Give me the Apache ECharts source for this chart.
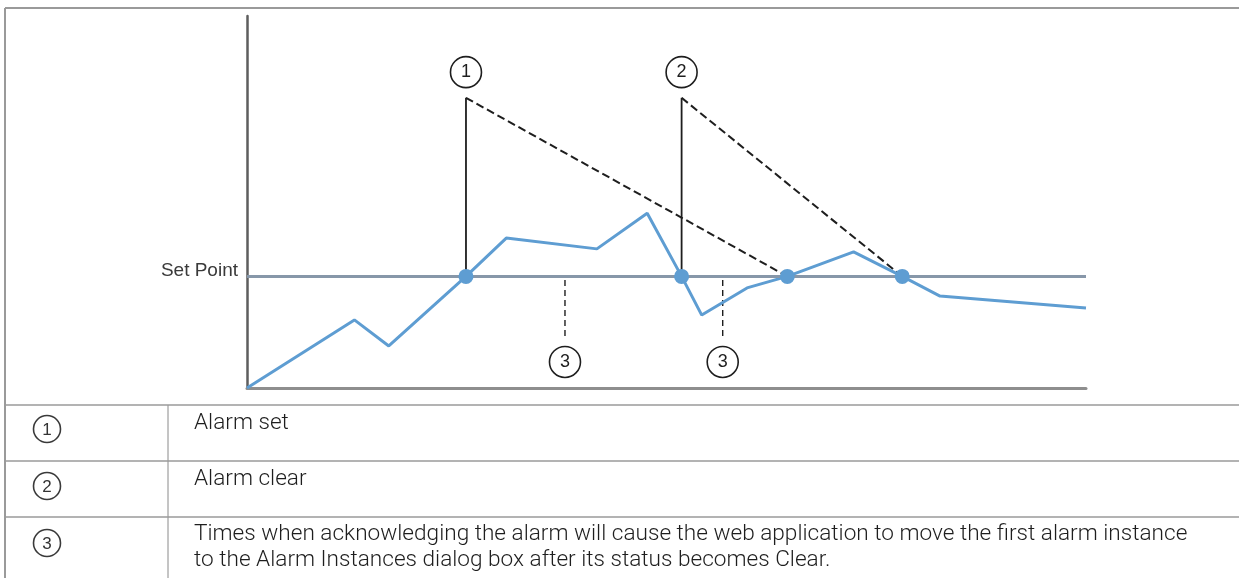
<!DOCTYPE html>
<html>
<head>
<meta charset="utf-8">
<script src="https://cdn.jsdelivr.net/npm/echarts@6/dist/echarts.min.js"></script>
<style>
  html, body { margin: 0; padding: 0; background: #fff; }
  #chart { width: 1239px; height: 578px; }
</style>
</head>
<body>
<div id="chart"></div>
<script>
// signal trace (x in % of time span, y in % of axis height)
const traceX = [0, 12.8, 16.9, 26.1, 30.9, 41.7, 47.7, 51.8, 54.2, 59.6, 64.4, 72.3, 78.1, 82.6, 100]
const traceY = [0, 18.3, 11.3, 30, 40.3, 37.4, 47.0, 30, 19.6, 26.9, 30, 36.6, 30, 24.7, 21.5]
const setPoint = 30
const crossX = [26.1, 51.8, 64.4, 78.1]

// callouts
const alarmX = [26.1, 51.8]        // 1 = set, 2 = clear
const alarmEndX = [64.4, 78.1]     // where the dashed line lands
const alarmTop = 78
const calloutY = 84.9
const ackX = [37.9, 56.7]
const ackTop = 29
const ackBottom = 13.3
const ackLabelY = 7

// legend table
const legendNums = ['1', '2', '3']
const legendText = [
  'Alarm set',
  'Alarm clear',
  'Times when acknowledging the alarm will cause the web application to move the first alarm instance\nto the Alarm Instances dialog box after its status becomes Clear.'
]

const blue = '#5e9dd2'
const ink = '#1e1e1e'

const series = []

series.push({
  type: 'line',
  data: traceX.map((x, i) => [x, traceY[i]]),
  showSymbol: false,
  lineStyle: { color: blue, width: 3 },
  z: 4,
  silent: true,
  markLine: {
    silent: true,
    symbol: 'none',
    lineStyle: { color: '#8797a9', width: 3, type: 'solid' },
    label: {
      show: true,
      position: 'start',
      formatter: 'Set Point',
      distance: 9,
      color: '#3a3a3a',
      fontFamily: 'Liberation Sans',
      fontSize: 19,
      offset: [0, -6]
    },
    data: [{ yAxis: setPoint }]
  }
})

series.push({
  type: 'scatter',
  data: crossX.map(x => [x, setPoint]),
  symbolSize: 15,
  itemStyle: { color: blue, opacity: 1 },
  z: 6,
  silent: true
})

alarmX.forEach((x, i) => {
  series.push({
    type: 'line',
    data: [[x, setPoint], [x, alarmTop]],
    showSymbol: false,
    lineStyle: { color: ink, width: 1.8 },
    z: 3,
    silent: true
  })
  series.push({
    type: 'line',
    data: [[x, alarmTop], [alarmEndX[i], setPoint]],
    showSymbol: false,
    lineStyle: { color: ink, width: 2, type: [8, 4] },
    z: 3,
    silent: true
  })
})

ackX.forEach(x => {
  series.push({
    type: 'line',
    data: [[x, ackTop], [x, ackBottom]],
    showSymbol: false,
    lineStyle: { color: ink, width: 1.4, type: [6, 4] },
    z: 3,
    silent: true
  })
})

const calloutPts = alarmX.map((x, i) => ({ value: [x, calloutY], name: legendNums[i] }))
  .concat(ackX.map(x => ({ value: [x, ackLabelY], name: legendNums[2] })))

series.push({
  type: 'scatter',
  data: calloutPts,
  symbolSize: 31,
  itemStyle: { color: '#fff', borderColor: ink, borderWidth: 1.6, opacity: 1 },
  label: {
    show: true,
    position: 'inside',
    formatter: p => p.name,
    color: ink,
    fontFamily: 'Liberation Sans',
    fontSize: 18
  },
  z: 7,
  silent: true
})

// table frame and text
const rowLines = [405, 461, 517]
const rowTextY = [[423], [479], [534, 560]]
const rowCircleY = [429, 486, 543]
const graphic = [
  { type: 'line', shape: { x1: 5, y1: 8, x2: 1239, y2: 8 }, style: { stroke: '#9a9a9a', lineWidth: 2 } },
  { type: 'line', shape: { x1: 5, y1: 8, x2: 5, y2: 578 }, style: { stroke: '#9a9a9a', lineWidth: 2 } },
  { type: 'line', shape: { x1: 168, y1: 405, x2: 168, y2: 578 }, style: { stroke: '#8a8a8a', lineWidth: 1 } }
]
rowLines.forEach(y => {
  graphic.push({ type: 'line', shape: { x1: 5, y1: y, x2: 1239, y2: y }, style: { stroke: '#9a9a9a', lineWidth: 1.5 } })
})
legendNums.forEach((n, i) => {
  graphic.push({
    type: 'circle',
    shape: { cx: 47, cy: rowCircleY[i], r: 13.5 },
    style: { fill: '#fff', stroke: '#3a3a3a', lineWidth: 1.6 }
  })
  graphic.push({
    type: 'text',
    z: 10,
    style: {
      x: 47, y: rowCircleY[i] + 1, text: n, align: 'center', verticalAlign: 'middle',
      font: '17px Liberation Sans', fill: '#333'
    }
  })
  legendText[i].split('\n').forEach((line, j) => {
    graphic.push({
      type: 'text',
      style: {
        x: 194, y: rowTextY[i][j], text: line, verticalAlign: 'middle',
        font: '300 22.6px Roboto', fill: '#1e1e1e'
      }
    })
  })
})

const chart = echarts.init(document.getElementById('chart'))
chart.setOption({
  animation: false,
  backgroundColor: '#fff',
  grid: { left: 247, right: 153, top: 16, bottom: 190 },
  xAxis: {
    type: 'value', min: 0, max: 100,
    axisLine: { show: true, onZero: false, lineStyle: { color: '#8e8e8e', width: 3 } },
    axisTick: { show: false }, axisLabel: { show: false }, splitLine: { show: false }
  },
  yAxis: {
    type: 'value', min: 0, max: 100,
    axisLine: { show: true, onZero: false, lineStyle: { color: '#5e5e5e', width: 2.5 } },
    axisTick: { show: false }, axisLabel: { show: false }, splitLine: { show: false }
  },
  series: series,
  graphic: graphic
})
</script>
</body>
</html>
